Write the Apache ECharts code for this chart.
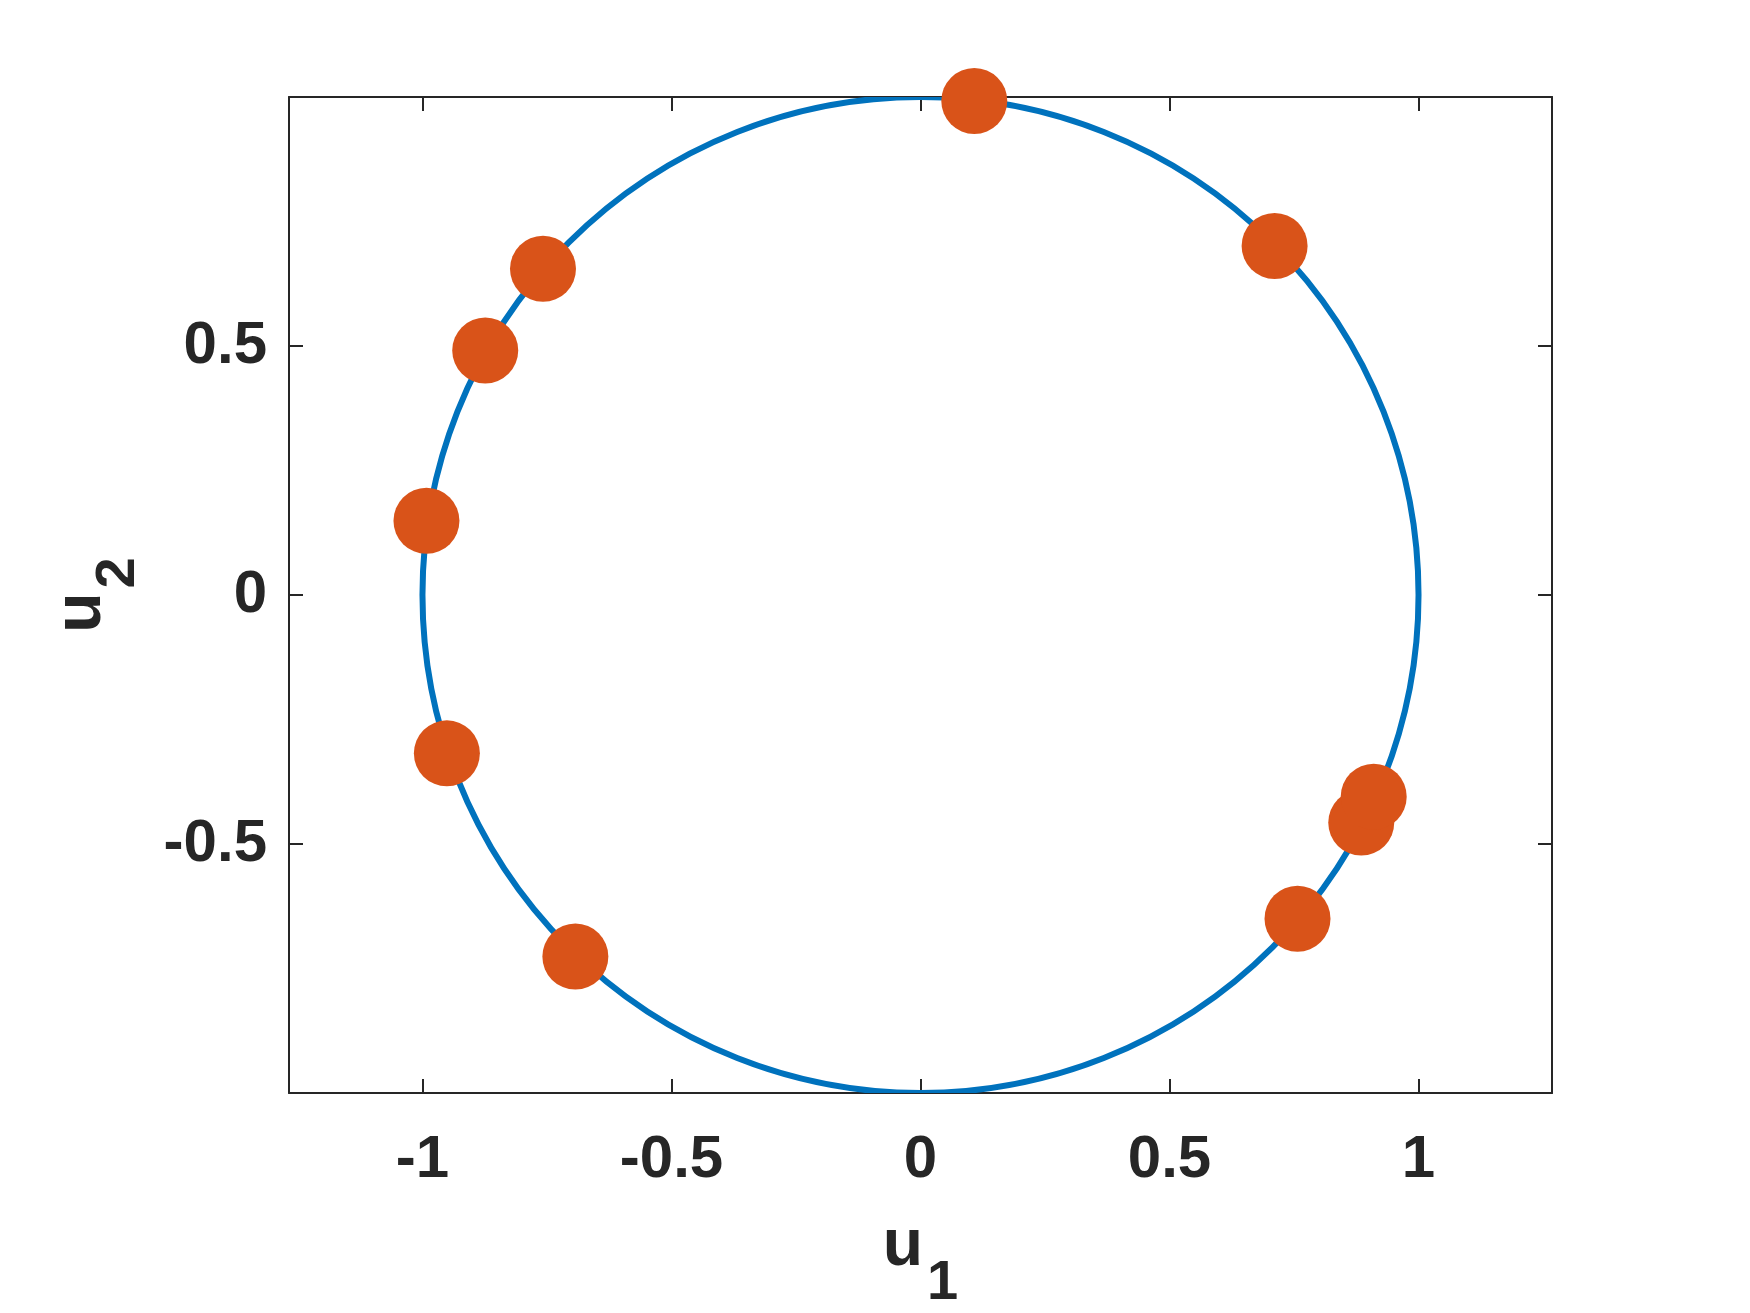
<!DOCTYPE html>
<html>
<head>
<meta charset="utf-8">
<script src="https://cdn.jsdelivr.net/npm/echarts@6/dist/echarts.min.js"></script>
<style>
html,body{margin:0;padding:0;background:#fff;}
#chart{width:1750px;height:1313px;}
</style>
</head>
<body>
<div id="chart"></div>
<script>
// Data
const pointsU1 = [0.108, 0.711, -0.758, -0.874, -0.992, -0.951, -0.693, 0.757, 0.885, 0.910];
const pointsU2 = [0.992, 0.701, 0.655, 0.491, 0.149, -0.318, -0.726, -0.650, -0.457, -0.405];
// unit circle: centre (u1, u2) and radius
const circleSpec = [[0, 0, 1]];
const xTicks = [-1, -0.5, 0, 0.5, 1];
const yTicks = [-0.5, 0, 0.5];
const xRange = [-1.268, 1.268];
const yRange = [-1, 1];

const scatterData = pointsU1.map((x, i) => [x, pointsU2[i]]);

const axisColor = '#262626';
const labelFont = { fontFamily: 'Liberation Sans', fontWeight: 'bold', fontSize: 60, color: axisColor };

function baseAxis(extra) {
  return Object.assign({
    type: 'value',
    axisLine: { show: true, onZero: false, lineStyle: { color: axisColor, width: 2 } },
    splitLine: { show: false },
    axisTick: { show: true, inside: true, length: 14, lineStyle: { color: axisColor, width: 2 } }
  }, extra);
}

const chart = echarts.init(document.getElementById('chart'), null, { renderer: 'canvas' });
chart.setOption({
  animation: false,
  backgroundColor: '#ffffff',
  grid: { left: 289, top: 97, right: 198, bottom: 220, containLabel: false, outerBoundsMode: 'none' },
  xAxis: [
    baseAxis({
      position: 'bottom', min: xRange[0], max: xRange[1],
      axisTick: { show: true, inside: true, length: 14, customValues: xTicks, lineStyle: { color: axisColor, width: 2 } },
      axisLabel: Object.assign({ show: true, margin: 37, customValues: xTicks, formatter: v => String(v) }, labelFont),
      name: '{a|u}{b|1}', nameLocation: 'middle', nameGap: 88,
      nameTextStyle: {
        rich: {
          a: { fontFamily: 'Liberation Sans', fontWeight: 'bold', fontSize: 66, color: axisColor },
          b: { fontFamily: 'Liberation Sans', fontWeight: 'bold', fontSize: 56, color: axisColor, padding: [75, 0, 0, 4] }
        }
      }
    }),
    baseAxis({
      position: 'top', min: xRange[0], max: xRange[1],
      axisTick: { show: true, inside: true, length: 14, customValues: xTicks, lineStyle: { color: axisColor, width: 2 } },
      axisLabel: { show: false }
    })
  ],
  yAxis: [
    baseAxis({
      position: 'left', min: yRange[0], max: yRange[1],
      axisTick: { show: true, inside: true, length: 14, customValues: yTicks, lineStyle: { color: axisColor, width: 2 } },
      axisLabel: Object.assign({ show: true, margin: 22, customValues: yTicks, formatter: v => String(v) }, labelFont),
      name: '{a|u}{b|2}', nameLocation: 'middle', nameGap: 142, nameRotate: 90,
      nameTextStyle: {
        rich: {
          a: { fontFamily: 'Liberation Sans', fontWeight: 'bold', fontSize: 66, color: axisColor },
          b: { fontFamily: 'Liberation Sans', fontWeight: 'bold', fontSize: 56, color: axisColor, padding: [75, 0, 0, 4] }
        }
      }
    }),
    baseAxis({
      position: 'right', min: yRange[0], max: yRange[1],
      axisTick: { show: true, inside: true, length: 14, customValues: yTicks, lineStyle: { color: axisColor, width: 2 } },
      axisLabel: { show: false }
    })
  ],
  series: [
    {
      type: 'custom',
      xAxisIndex: 0, yAxisIndex: 0,
      data: circleSpec,
      encode: { x: 0, y: 1 },
      clip: true,
      z: 2,
      renderItem: function (params, api) {
        const c = api.coord([api.value(0), api.value(1)]);
        const s = api.size([api.value(2), api.value(2)]);
        return {
          type: 'circle',
          shape: { cx: c[0], cy: c[1], r: s[0] },
          style: { fill: 'none', stroke: '#0072BD', lineWidth: 6 }
        };
      }
    },
    {
      type: 'scatter',
      xAxisIndex: 0, yAxisIndex: 0,
      data: scatterData,
      symbol: 'circle',
      symbolSize: 66,
      itemStyle: { color: '#D95319', opacity: 1 },
      z: 3
    }
  ]
});
</script>
</body>
</html>
